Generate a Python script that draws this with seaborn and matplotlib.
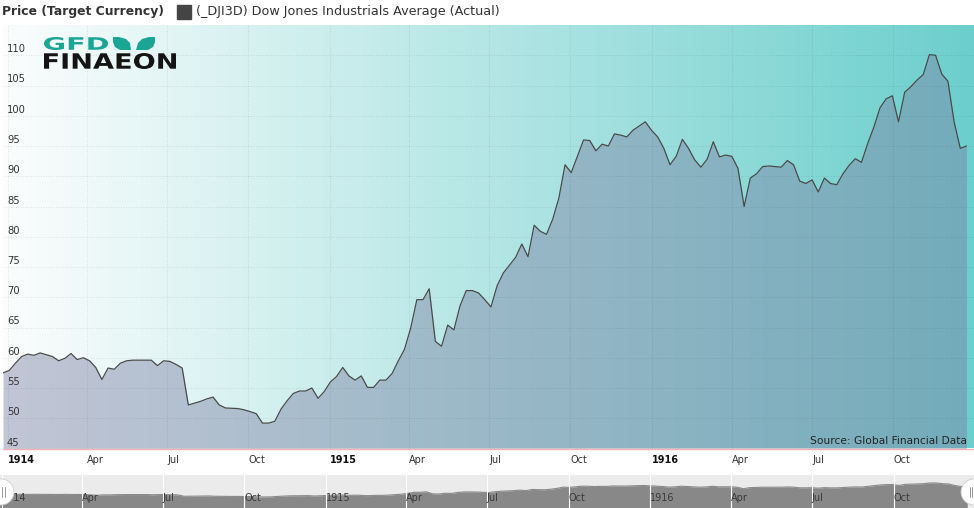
import numpy as np
import pandas as pd
import matplotlib
matplotlib.use("Agg")
import matplotlib.pyplot as plt
import matplotlib.dates as mdates
import matplotlib.transforms as mtransforms
from matplotlib.colors import LinearSegmentedColormap
from matplotlib.patches import Rectangle, Polygon, Ellipse, PathPatch
from matplotlib.textpath import TextPath
from matplotlib.font_manager import FontProperties
import seaborn as sns

axis_title = "Price (Target Currency)"
series_name = "(_DJI3D) Dow Jones Industrials Average (Actual)"
source_note = "Source: Global Financial Data"
first_week = "1913-12-27"   # weekly closes, one per Saturday

close_1914 = [57.5, 57.9, 59.1, 60.2, 60.6, 60.4, 60.8, 60.5, 60.2, 59.5,
              59.9, 60.7, 59.7, 60.0, 59.5, 58.4, 56.4, 58.3, 58.1, 59.1,
              59.5, 59.6, 59.6, 59.6, 59.6, 58.7, 59.5, 59.4, 58.9, 58.3,
              52.2, 52.5, 52.8, 53.2, 53.5, 52.2, 51.7, 51.65, 51.6, 51.4,
              51.1, 50.75, 49.2, 49.2, 49.5, 51.5, 52.9, 54.1, 54.5, 54.5,
              55.0, 53.3, 54.4]
close_1915 = [56.0, 56.9, 58.4, 57.0, 56.3, 57.0, 55.1, 55.1, 56.3, 56.3,
              57.4, 59.5, 61.4, 64.9, 69.6, 69.6, 71.4, 62.7, 61.9, 65.4,
              64.6, 68.6, 71.1, 71.1, 70.7, 69.6, 68.4, 71.9, 74.0, 75.3,
              76.6, 78.8, 76.7, 81.9, 80.9, 80.4, 82.9, 86.4, 91.9, 90.6,
              93.3, 96.0, 95.9, 94.2, 95.3, 95.0, 97.0, 96.8, 96.5, 97.6,
              98.3, 99.0]
close_1916 = [97.6, 96.5, 94.6, 91.9, 93.3, 96.1, 94.6, 92.7, 91.5, 92.8,
              95.7, 93.2, 93.5, 93.3, 91.3, 85.0, 89.7, 90.4, 91.6, 91.7,
              91.6, 91.5, 92.6, 91.9, 89.2, 88.8, 89.4, 87.4, 89.7, 88.8,
              88.6, 90.4, 91.8, 92.9, 92.3, 95.4, 98.1, 101.3, 102.8, 103.3,
              99.0, 103.9, 104.8, 105.9, 106.8, 110.1, 110.0, 106.9, 105.7, 99.0,
              94.6, 95.0]

tick_months = ["1914-01-01", "1914-04-01", "1914-07-01", "1914-10-01",
               "1915-01-01", "1915-04-01", "1915-07-01", "1915-10-01",
               "1916-01-01", "1916-04-01", "1916-07-01", "1916-10-01"]
tick_labels = ["1914", "Apr", "Jul", "Oct", "1915", "Apr", "Jul", "Oct",
               "1916", "Apr", "Jul", "Oct"]
y_ticks = [45, 50, 55, 60, 65, 70, 75, 80, 85, 90, 95, 100, 105, 110]

W, H = 974, 508


def px_box(left, top, right, bottom):
    return [left / W, 1 - bottom / H, (right - left) / W, (bottom - top) / H]


def px_date(px, origin_px, px_per_day):
    return pd.Timestamp("1914-01-01") + pd.Timedelta(days=(px - origin_px) / px_per_day)


def stretched_word(ax, text, x0, y0, x1, y1, color):
    tp = TextPath((0, 0), text, size=1, prop=FontProperties(family="DejaVu Sans", weight="bold"))
    ext = tp.get_extents()
    tr = (mtransforms.Affine2D()
          .translate(-ext.x0, -ext.y0)
          .scale((x1 - x0) / ext.width, -(y1 - y0) / ext.height)
          .translate(x0, y1))
    ax.add_patch(PathPatch(tr.transform_path(tp), color=color, lw=0))


prices = close_1914 + close_1915 + close_1916
df = pd.DataFrame({"date": pd.date_range(first_week, periods=len(prices), freq="7D"),
                   "price": prices})

sns.set_theme(style="white")
plt.rcParams["font.family"] = ["DejaVu Sans"]

fig = plt.figure(figsize=(W / 100, H / 100), dpi=100)
fig.patch.set_facecolor("white")

# ---- main chart
ax = fig.add_axes(px_box(3, 25, 974, 448.5))
sns.lineplot(data=df, x="date", y="price", ax=ax, color="#4a4a4a", lw=0.9, zorder=3)
ax.fill_between(df["date"], df["price"], 45, color="#7c81a4", alpha=0.45, lw=0, zorder=2)

x_lo, x_hi = px_date(3, 7.5, 0.8822), px_date(974, 7.5, 0.8822)
bg = LinearSegmentedColormap.from_list("bg", ["#fbfdfd", "#6ccfcd"])
ax.imshow(np.linspace(0, 1, 256)[None, :], cmap=bg, aspect="auto", zorder=0,
          extent=[mdates.date2num(x_lo), mdates.date2num(x_hi), 45, 115])
ax.set_xlim(x_lo, x_hi)
ax.set_ylim(45, 115)
ax.set_aspect("auto")

ax.set_yticks(y_ticks)
ax.set_xticks(pd.to_datetime(tick_months))
ax.set_xticklabels(tick_labels, ha="left")
ax.tick_params(axis="y", length=0, labelleft=False)
ax.tick_params(axis="x", length=0, pad=5, labelsize=7, colors="#333333")
for lbl in ax.get_xticklabels():
    if lbl.get_text().isdigit():
        lbl.set_fontweight("bold")
        lbl.set_color("#111111")
ax.set_axisbelow(False)
ax.grid(True, linestyle=(0, (1, 2)), color="#000000", alpha=0.13, lw=0.6)
ax.set_xlabel("")
ax.set_ylabel("")
for side in ["top", "left", "right"]:
    ax.spines[side].set_visible(False)
ax.spines["bottom"].set_color("#f0b4b4")
ax.spines["bottom"].set_linewidth(1)

ylab = mtransforms.blended_transform_factory(ax.transAxes, ax.transData)
for v in y_ticks:
    ax.annotate(str(v), xy=(0, v), xycoords=ylab, xytext=(4, 1), textcoords="offset pixels",
                ha="left", va="bottom", fontsize=7.2, color="#333333", zorder=5)
ax.text(0.9925, 0.006, source_note, transform=ax.transAxes, ha="right", va="bottom",
        fontsize=7.7, color="#222222", zorder=5)

# ---- navigator
nav = fig.add_axes(px_box(0, 475, 974, 508))
nav.set_facecolor("#ebebeb")
sns.lineplot(data=df, x="date", y="price", ax=nav, color="#8a8a8a", lw=0.8)
nav.fill_between(df["date"], df["price"], 0, color="#888888", lw=0)
nav.set_xlim(px_date(0, 2, 0.888), px_date(974, 2, 0.888))
nav.set_ylim(1.2, 144.6)
nav.set_yticks([])
nav.set_xticks(pd.to_datetime(tick_months))
nav.set_xticklabels(tick_labels, ha="left")
nav.tick_params(axis="x", length=0, pad=-11, labelsize=7, colors="#3a3a3a")
nav.grid(True, axis="x", color="white", lw=0.8)
nav.set_axisbelow(False)
nav.set_xlabel("")
nav.set_ylabel("")
for s in nav.spines.values():
    s.set_visible(False)

# ---- overlay in pixel coordinates: header, legend, logo, handles
ov = fig.add_axes([0, 0, 1, 1], zorder=10)
ov.set_xlim(0, W)
ov.set_ylim(H, 0)
ov.axis("off")
ov.patch.set_alpha(0)

ov.text(2, 12, axis_title, ha="left", va="center", fontsize=8.9, fontweight="bold", color="#333333")
ov.add_patch(Rectangle((177, 5), 14, 14, color="#444444"))
ov.text(196, 12, series_name, ha="left", va="center", fontsize=9.2, color="#333333")

teal = "#1ba595"
stretched_word(ov, "GFD", 44, 37, 108, 50, teal)
ov.add_patch(Polygon([(113, 37), (119, 37), (126, 39), (130, 43), (131, 50), (120, 50),
                      (115, 47), (113, 42)], color=teal, lw=0))
ov.add_patch(Polygon([(155, 37), (149, 37), (142, 39), (138, 43), (136, 50), (148, 50),
                      (153, 47), (155, 42)], color=teal, lw=0))
stretched_word(ov, "FINAEON", 44, 53, 176, 69, "#141414")

for cx in (1, 974):
    ov.add_patch(Ellipse((cx, 492), 26, 26, fc="white", ec="#cccccc", lw=0.6))
ov.plot([2, 2], [487, 497], color="#999999", lw=0.7)
ov.plot([4.5, 4.5], [487, 497], color="#999999", lw=0.7)
ov.plot([969.5, 969.5], [487, 497], color="#999999", lw=0.7)
ov.plot([972, 972], [487, 497], color="#999999", lw=0.7)

fig.savefig("out.png", dpi=100)
